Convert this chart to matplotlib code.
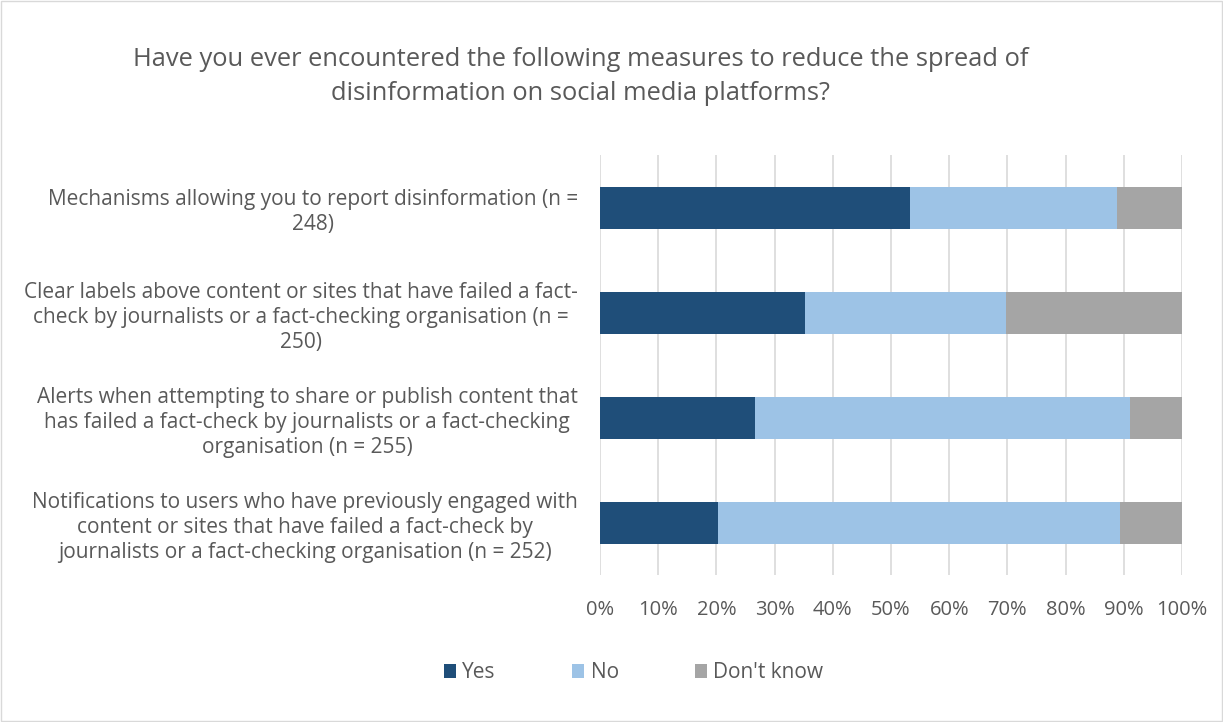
import matplotlib
matplotlib.use("Agg")
import matplotlib.pyplot as plt
from matplotlib.patches import Rectangle

plt.rcParams['font.family'] = ['Open Sans', 'DejaVu Sans']

categories = [
    "Mechanisms allowing you to report disinformation (n =\n248)",
    "Clear labels above content or sites that have failed a fact-\ncheck by journalists or a fact-checking organisation (n =\n250)",
    "Alerts when attempting to share or publish content that\nhas failed a fact-check by journalists or a fact-checking\norganisation (n = 255)",
    "Notifications to users who have previously engaged with\ncontent or sites that have failed a fact-check by\njournalists or a fact-checking organisation (n = 252)",
]
yes = [53.2, 35.2, 26.7, 20.2]
no = [35.6, 34.5, 64.3, 69.2]
dont_know = [11.2, 30.3, 9.0, 10.6]

series = [("Yes", yes, "#1F4E79"), ("No", no, "#9DC3E6"), ("Don't know", dont_know, "#A5A5A5")]
text_col = "#595959"

fig = plt.figure(figsize=(12.23, 7.22), dpi=100)
ax = fig.add_axes([0.4906, 0.2036, 0.4759, 0.5814])

ypos = list(range(len(categories)))
left = [0] * len(categories)
for name, vals, col in series:
    ax.barh(ypos, vals, left=left, height=0.4, color=col, label=name, zorder=3)
    left = [a + b for a, b in zip(left, vals)]

ax.set_ylim(len(categories) - 0.5, -0.5)
ax.set_xlim(0, 100)
ax.set_xticks(range(0, 101, 10))
ax.set_xticklabels([f"{v}%" for v in range(0, 101, 10)], fontsize=14.5, color=text_col)
ax.set_yticks(ypos)
ax.set_yticklabels(categories, fontsize=15, color=text_col, linespacing=1.25)
for t in ax.get_yticklabels():
    t.set_multialignment('center')
ax.tick_params(axis='y', length=0, pad=16)
ax.tick_params(axis='x', length=0, pad=18)
ax.grid(axis='x', color='#D9D9D9', linewidth=1.2, zorder=0)
for s in ax.spines.values():
    s.set_visible(False)

fig.text(0.475, 0.894, "Have you ever encountered the following measures to reduce the spread of\ndisinformation on social media platforms?",
         ha='center', va='center', fontsize=18.4, color=text_col, linespacing=1.45)

fig.legend(loc='center', bbox_to_anchor=(0.518, 0.068), ncol=3, frameon=False,
           fontsize=15, handlelength=0.6, handleheight=0.6, columnspacing=3.65,
           handletextpad=0.3, labelcolor=text_col)

fig.patches.append(Rectangle((0.001, 0.001), 0.998, 0.997, transform=fig.transFigure,
                             fill=False, edgecolor='#D9D9D9', linewidth=1))

fig.savefig("out.png", dpi=100, facecolor='white')
